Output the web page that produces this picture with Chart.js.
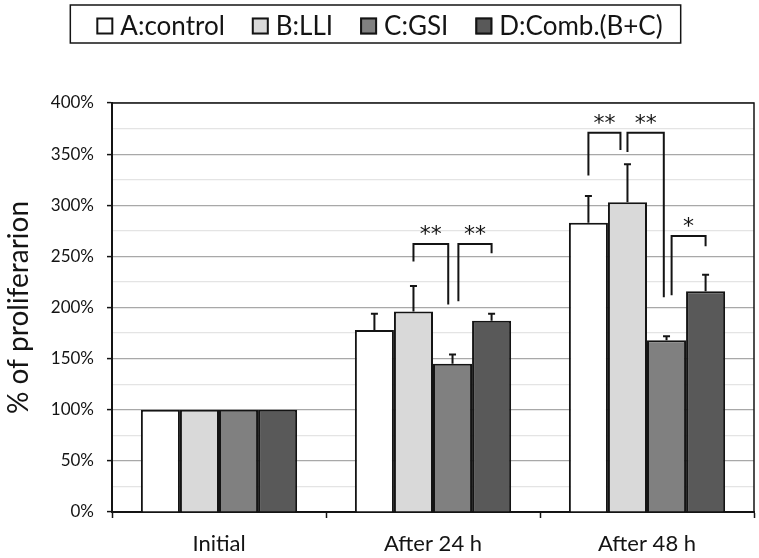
<!DOCTYPE html>
<html>
<head>
<meta charset="utf-8">
<script src="https://cdn.jsdelivr.net/npm/chart.js@4.4.0/dist/chart.umd.min.js"></script>
<style>
  html, body { margin: 0; padding: 0; background: #fff; }
  #wrap { width: 759px; height: 558px; }
</style>
</head>
<body>
<div id="wrap"><canvas id="chart"></canvas></div>
<script>
const categories = ["Initial", "After 24 h", "After 48 h"];
const seriesNames = ["A:control", "B:LLI", "C:GSI", "D:Comb.(B+C)"];
const seriesColors = ["#ffffff", "#d9d9d9", "#808080", "#595959"];

// % of proliferation (mean) and upper error
const controlValues = [100, 178, 283];
const lliValues = [100, 196, 303];
const gsiValues = [100, 145, 168];
const combValues = [100, 187, 216];
const controlErr = [0, 16, 26];
const lliErr = [0, 25, 37];
const gsiErr = [0, 9, 4];
const combErr = [0, 7, 16];

// significance brackets: category, legs (in bar slots), leg ends / top (%), label
const bracketCat = [1, 1, 2, 2, 2];
const bracketFrom = [1, 2.15, 0, 1, 2.13];
const bracketTo = [1.89, 3, 0.82, 1.93, 3];
const bracketFromY = [245, 206, 329, 352, 212];
const bracketToY = [203, 253, 354, 210, 260];
const bracketTopY = [262, 262, 371, 371, 270];
const bracketLabel = ["**", "**", "**", "**", "*"];

const allValues = [controlValues, lliValues, gsiValues, combValues];
const allErrors = [controlErr, lliErr, gsiErr, combErr];

const FONT = "Lato";
const INK = "#141414";

// error bars, significance brackets, plot frame and boxed legend
const extras = {
  id: "extras",
  afterDatasetsDraw(chart) {
    const ctx = chart.ctx;
    const y = chart.scales.y;
    const area = chart.chartArea;
    ctx.save();
    ctx.strokeStyle = INK;
    ctx.lineWidth = 2;

    allErrors.forEach((errs, di) => {
      chart.getDatasetMeta(di).data.forEach((bar, i) => {
        if (!errs[i]) return;
        const top = y.getPixelForValue(allValues[di][i] + errs[i]);
        ctx.beginPath();
        ctx.moveTo(bar.x, bar.y);
        ctx.lineTo(bar.x, top);
        ctx.moveTo(bar.x - 3.5, top);
        ctx.lineTo(bar.x + 3.5, top);
        ctx.stroke();
      });
    });

    ctx.fillStyle = INK;
    ctx.font = "22px 'DejaVu Sans'";
    ctx.textAlign = "center";
    ctx.textBaseline = "alphabetic";
    bracketCat.forEach((c, k) => {
      const b0 = chart.getDatasetMeta(0).data[c];
      const b1 = chart.getDatasetMeta(1).data[c];
      const slot = b1.x - b0.x;
      const x1 = b0.x + bracketFrom[k] * slot;
      const x2 = b0.x + bracketTo[k] * slot;
      const yt = y.getPixelForValue(bracketTopY[k]);
      ctx.beginPath();
      ctx.moveTo(x1, y.getPixelForValue(bracketFromY[k]));
      ctx.lineTo(x1, yt);
      ctx.lineTo(x2, yt);
      ctx.lineTo(x2, y.getPixelForValue(bracketToY[k]));
      ctx.stroke();
      ctx.fillText(bracketLabel[k], (x1 + x2) / 2, yt - 3);
    });

    // plot frame (top and right)
    ctx.lineWidth = 1.5;
    ctx.beginPath();
    ctx.moveTo(area.left, area.top);
    ctx.lineTo(area.right, area.top);
    ctx.lineTo(area.right, area.bottom);
    ctx.stroke();
    ctx.restore();
  },
  afterDraw(chart) {
    const ctx = chart.ctx;
    ctx.save();
    ctx.font = "26px " + FONT;
    ctx.textBaseline = "middle";
    ctx.textAlign = "left";
    const box = 17, gapText = 7, gapItem = 27;
    let total = 0;
    const widths = seriesNames.map((n) => ctx.measureText(n).width);
    widths.forEach((w, i) => { total += box + gapText + w + (i ? gapItem : 0); });
    let x = chart.width / 2 - total / 2;
    const cy = 26;
    ctx.strokeStyle = INK;
    ctx.lineWidth = 1.5;
    ctx.strokeRect(x - 26, 5, total + 44, 38);
    seriesNames.forEach((name, i) => {
      ctx.fillStyle = seriesColors[i];
      ctx.fillRect(x, cy - box / 2, box, box);
      ctx.lineWidth = 2;
      ctx.strokeRect(x + 1, cy - box / 2 + 1, box - 2, box - 2);
      ctx.fillStyle = INK;
      ctx.fillText(name, x + box + gapText, cy + 1);
      x += box + gapText + widths[i] + gapItem;
    });
    ctx.restore();
  }
};

new Chart(document.getElementById("chart"), {
  type: "bar",
  data: {
    labels: categories,
    datasets: seriesNames.map((name, i) => ({
      label: name,
      data: allValues[i],
      backgroundColor: seriesColors[i],
      borderColor: INK,
      borderWidth: 2,
      categoryPercentage: 0.73,
      barPercentage: 1.0,
    })),
  },
  options: {
    responsive: true,
    maintainAspectRatio: false,
    animation: false,
    layout: { padding: { top: 103, right: 5, left: 0, bottom: 0 } },
    plugins: {
      legend: { display: false },
      tooltip: { enabled: false },
    },
    scales: {
      x: {
        grid: {
          offset: true,
          drawOnChartArea: false,
          drawTicks: true,
          tickLength: 6,
          tickColor: INK,
          tickWidth: 1.5,
        },
        border: { color: INK, width: 2 },
        ticks: {
          color: INK,
          padding: 13,
          font: { family: FONT, size: 22 },
        },
        afterFit(scale) { scale.height = 46; },
      },
      y: {
        min: 0,
        max: 400,
        border: { color: INK, width: 2 },
        grid: {
          color: (c) => (c.tick && c.tick.value % 50 === 0 ? "#a8a8a8" : "#e4e4e4"),
          tickColor: (c) => (c.tick && c.tick.value % 50 === 0 ? INK : "rgba(0,0,0,0)"),
          tickLength: 5,
          tickWidth: 1.5,
          lineWidth: 1.2,
        },
        ticks: {
          stepSize: 25,
          autoSkip: false,
          padding: 13,
          color: INK,
          font: { family: FONT, size: 17 },
          callback: (v) => (v % 50 === 0 ? v + "%" : ""),
        },
        title: {
          display: true,
          text: "% of proliferarion",
          color: INK,
          font: { family: FONT, size: 28 },
          padding: { top: 2, bottom: 0 },
        },
        afterFit(scale) { scale.width = 112; },
      },
    },
  },
  plugins: [extras],
});
</script>
</body>
</html>
